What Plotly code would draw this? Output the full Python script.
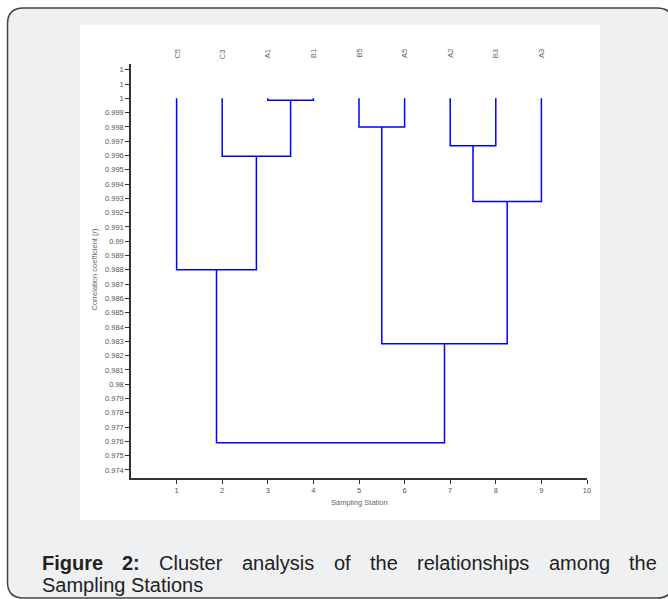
import plotly.graph_objects as go

# ---------------- data ----------------
leaves = ["C5", "C3", "A1", "B1", "B5", "A5", "A2", "B3", "A3"]
leaf_level = 1.0
# linkage: new cluster id = 9 + link index
link_left = [2, 1, 4, 6, 12, 0, 11, 14]
link_right = [3, 9, 5, 7, 8, 10, 13, 15]
link_height = [0.99987, 0.99595, 0.99800, 0.99668, 0.99278, 0.98800, 0.98283, 0.97590]

y_tickvals = [round(0.974 + 0.001 * i, 3) for i in range(29)]
y_ticktext = ["%.3g" % v for v in y_tickvals]
x_tickvals = list(range(1, 11))

caption_words = ["Figure", "2:", "Cluster", "analysis", "of", "the", "relationships", "among", "the"]
caption_line2 = "Sampling Stations"

# ---------------- geometry ----------------
W, H = 668, 599
L, R, T, B = 131, 587, 64, 478

def px(x):
    return (x - L) / (R - L)

def py(y):
    return (B - y) / (B - T)

# dendrogram path
pos = {i: i + 1 for i in range(len(leaves))}
hgt = {i: leaf_level for i in range(len(leaves))}
xs, ys = [], []
for k, (a, b, h) in enumerate(zip(link_left, link_right, link_height)):
    xa, ya, xb, yb = pos[a], hgt[a], pos[b], hgt[b]
    xs += [xa, xa, xb, xb, None]
    ys += [ya, h, h, yb, None]
    nid = len(leaves) + k
    pos[nid] = (xa + xb) / 2
    hgt[nid] = h

fig = go.Figure()
fig.add_trace(go.Scatter(x=xs, y=ys, mode="lines",
                         line=dict(color="#0000ff", width=1.5),
                         hoverinfo="skip", showlegend=False, cliponaxis=False))

tick_font = dict(family="Liberation Sans, Arial", size=7.5, color="#555555")

# rounded card outline
xl, xr, yt, yb_, r = 7.5, 673, 8, 598, 16
card = ("M {a},{b} L {a},{c} Q {a},{d} {e},{d} L {f},{d} Q {g},{d} {g},{c} "
        "L {g},{b} Q {g},{h} {f},{h} L {e},{h} Q {a},{h} {a},{b} Z").format(
    a=px(xl), b=py(yb_ - r), c=py(yt + r), d=py(yt), e=px(xl + r),
    f=px(xr - r), g=px(xr), h=py(yb_))

shapes = [
    dict(type="path", xref="paper", yref="paper", path=card,
         line=dict(color="#444444", width=1.5), fillcolor="#eff0f2", layer="below"),
    # white panel
    dict(type="rect", xref="paper", yref="paper",
         x0=px(80), x1=px(600), y0=py(520), y1=py(25),
         line=dict(width=0), fillcolor="#ffffff", layer="below"),
]

annotations = []
for i, name in enumerate(leaves):
    annotations.append(dict(x=i + 1, xref="x", y=py(47), yref="paper", text=name,
                            textangle=-90, showarrow=False,
                            font=dict(family="Liberation Sans, Arial", size=7.5, color="#666666")))
annotations.append(dict(x=px(87), xref="paper", y=py(270), yref="paper",
                        text="Correlation coefficient (<i>r</i>)", textangle=-90, showarrow=False,
                        font=dict(family="Liberation Sans, Arial", size=7.5, color="#666666")))
annotations.append(dict(x=px(359), xref="paper", y=py(509), yref="paper",
                        text="Sampling Station", showarrow=False,
                        font=dict(family="Liberation Sans, Arial", size=7.5, color="#666666")))

word_x = [40, 120, 157, 240, 332, 368, 415, 547, 627]
for w, xw in zip(caption_words, word_x):
    txt = "<b>%s</b>" % w if w in ("Figure", "2:") else w
    annotations.append(dict(x=px(xw), xref="paper", y=py(563), yref="paper",
                            text=txt, showarrow=False, xanchor="left", yanchor="middle",
                            font=dict(family="Liberation Sans, Arial", size=20, color="#222222")))
annotations.append(dict(x=px(40), xref="paper", y=py(585), yref="paper",
                        text=caption_line2, showarrow=False, xanchor="left", yanchor="middle",
                        font=dict(family="Liberation Sans, Arial", size=20, color="#222222")))

fig.update_layout(
    width=W, height=H,
    margin=dict(l=L, r=W - R, t=T, b=H - B, pad=0),
    paper_bgcolor="#ffffff", plot_bgcolor="rgba(0,0,0,0)",
    shapes=shapes, annotations=annotations, showlegend=False,
    xaxis=dict(range=[0, 10], tickvals=x_tickvals, ticks="outside", ticklen=4, tickwidth=1.2,
               tickcolor="#333333", showline=True, linecolor="#333333", linewidth=1.5,
               showgrid=False, zeroline=False, tickfont=tick_font, fixedrange=True),
    yaxis=dict(range=[0.97344, 1.0024], tickvals=y_tickvals, ticktext=y_ticktext,
               ticks="outside", ticklen=4, tickwidth=1.2, tickcolor="#333333",
               showline=True, linecolor="#333333", linewidth=1.5,
               showgrid=False, zeroline=False, tickfont=tick_font, fixedrange=True),
)

fig.write_html("out.html", config={"displayModeBar": False},
               post_script="document.body.style.margin='0';document.body.style.overflow='hidden';")
